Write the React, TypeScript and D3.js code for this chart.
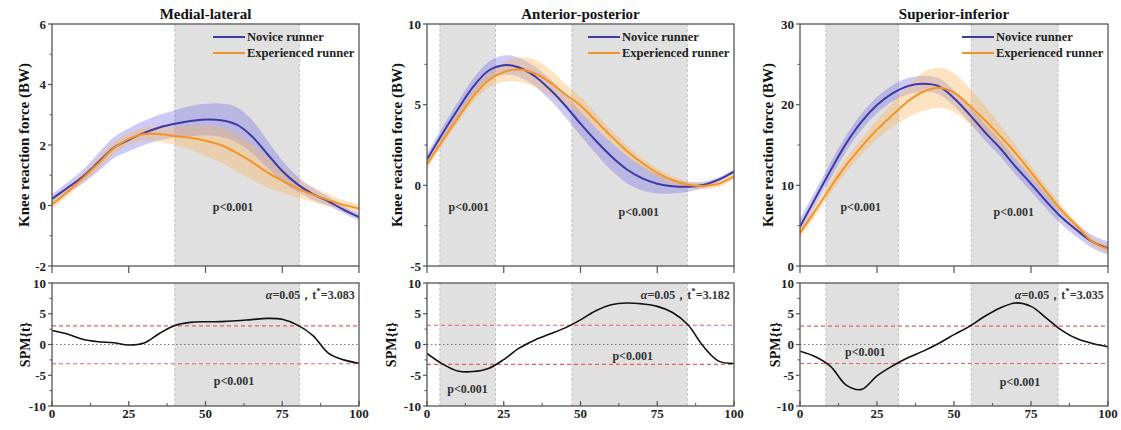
import React from 'react';
import * as d3 from 'd3';

// gait cycle (%) sample points
const gaitCycle = [0, 5, 10, 15, 20, 25, 30, 35, 40, 45, 50, 55, 60, 65, 70, 75, 80, 85, 90, 95, 100];

// Medial-lateral
const mlNovice = [0.22, 0.58, 0.95, 1.42, 1.9, 2.17, 2.4, 2.58, 2.7, 2.79, 2.84, 2.82, 2.68, 2.3, 1.72, 1.14, 0.7, 0.38, 0.14, -0.14, -0.38];
const mlNoviceSd = [0.15, 0.18, 0.22, 0.3, 0.35, 0.38, 0.4, 0.42, 0.45, 0.5, 0.52, 0.55, 0.58, 0.55, 0.45, 0.35, 0.25, 0.2, 0.15, 0.12, 0.12];
const mlExperienced = [0.03, 0.45, 0.9, 1.38, 1.88, 2.2, 2.36, 2.36, 2.3, 2.24, 2.14, 2.0, 1.75, 1.45, 1.1, 0.82, 0.56, 0.36, 0.18, 0.02, -0.1];
const mlExperiencedSd = [0.15, 0.15, 0.15, 0.2, 0.2, 0.2, 0.22, 0.25, 0.3, 0.4, 0.5, 0.58, 0.62, 0.58, 0.5, 0.4, 0.3, 0.25, 0.2, 0.15, 0.15];
const mlSpm = [2.28, 1.7, 0.85, 0.45, 0.28, -0.08, 0.25, 1.8, 3.1, 3.6, 3.7, 3.72, 3.85, 4.05, 4.25, 4.1, 3.15, 1.45, -1.4, -2.5, -3.04];

// Anterior-posterior
const apNovice = [1.6, 3.2, 4.7, 6.1, 7.1, 7.45, 7.3, 6.78, 5.95, 4.95, 3.82, 2.76, 1.8, 1.0, 0.45, 0.1, -0.06, -0.09, 0.02, 0.35, 0.85];
const apNoviceSd = [0.35, 0.4, 0.45, 0.5, 0.55, 0.6, 0.6, 0.6, 0.65, 0.7, 0.75, 0.8, 0.85, 0.85, 0.75, 0.6, 0.45, 0.3, 0.2, 0.15, 0.15];
const apExperienced = [1.3, 2.75, 4.15, 5.5, 6.5, 7.02, 7.18, 6.95, 6.4, 5.65, 4.95, 4.0, 3.05, 2.15, 1.4, 0.78, 0.32, 0.04, -0.04, 0.1, 0.55];
const apExperiencedSd = [0.3, 0.3, 0.3, 0.35, 0.45, 0.6, 0.75, 0.85, 0.8, 0.65, 0.55, 0.45, 0.4, 0.35, 0.3, 0.3, 0.25, 0.2, 0.2, 0.2, 0.2];
const apSpm = [-1.46, -3.15, -4.3, -4.4, -3.9, -2.45, -0.6, 0.7, 1.7, 2.7, 4.0, 5.5, 6.45, 6.75, 6.6, 6.2, 5.2, 3.2, -0.3, -2.7, -3.08];

// Superior-inferior
const siNovice = [4.9, 8.4, 11.9, 15.2, 17.9, 19.95, 21.4, 22.3, 22.6, 22.3, 20.8, 18.8, 16.6, 14.6, 12.3, 10.2, 8.0, 6.0, 4.4, 3.0, 2.2];
const siNoviceSd = [0.9, 0.95, 1.0, 1.0, 1.0, 1.0, 1.0, 1.0, 1.0, 1.0, 1.0, 1.0, 1.0, 1.0, 1.0, 0.95, 0.9, 0.9, 0.85, 0.8, 0.8];
const siExperienced = [4.1, 6.9, 9.8, 12.5, 14.8, 16.9, 18.7, 20.4, 21.6, 22.1, 21.5, 19.9, 18.1, 16.1, 14.0, 11.6, 9.2, 6.9, 4.9, 3.0, 2.1];
const siExperiencedSd = [0.6, 0.7, 0.8, 0.9, 1.0, 1.2, 1.5, 2.0, 2.4, 2.5, 2.4, 2.2, 1.8, 1.4, 1.0, 0.8, 0.7, 0.6, 0.5, 0.5, 0.5];
const siSpm = [-1.1, -2.0, -3.6, -6.6, -7.3, -5.1, -3.5, -2.16, -1.08, 0.16, 1.6, 2.95, 4.6, 5.95, 6.76, 6.2, 4.3, 2.3, 0.92, 0.16, -0.38];

const titles = ['Medial-lateral', 'Anterior-posterior', 'Superior-inferior'];
const thresholds = [3.083, 3.182, 3.035];
const sigRegions = [
  [[40, 80.6]],
  [[4.2, 22.3], [47.2, 84.8]],
  [[8.4, 32], [55.6, 83.8]],
];
const xTicks = [0, 25, 50, 75, 100];
const spmTicks = [-10, -5, 0, 5, 10];

const FONT = '"Liberation Serif", "Times New Roman", serif';
const BLUE = '#3d3aa6';
const ORANGE = '#f39424';

const TOP = [24, 266];
const BOT = [283, 406];

const panels = [
  {
    left: 52, right: 359, yDomain: [-2, 6], yTicks: [-2, 0, 2, 4, 6], yMinor: [-1, 1, 3, 5],
    novice: mlNovice, noviceSd: mlNoviceSd, exp: mlExperienced, expSd: mlExperiencedSd, spm: mlSpm,
    topP: [[59, -0.17]], botP: [[59.3, -6.6]], yLabelX: 24, spmLabelX: 25,
  },
  {
    left: 427, right: 734, yDomain: [-5, 10], yTicks: [-5, 0, 5, 10], yMinor: [-2.5, 2.5, 7.5],
    novice: apNovice, noviceSd: apNoviceSd, exp: apExperienced, expSd: apExperiencedSd, spm: apSpm,
    topP: [[13.6, -1.6], [69, -1.9]], botP: [[13.2, -7.9], [67, -2.5]], yLabelX: 397, spmLabelX: 391,
  },
  {
    left: 800, right: 1108, yDomain: [0, 30], yTicks: [0, 10, 20, 30], yMinor: [5, 15, 25],
    novice: siNovice, noviceSd: siNoviceSd, exp: siExperienced, expSd: siExperiencedSd, spm: siSpm,
    topP: [[19.7, 6.8], [69.4, 6.2]], botP: [[21.2, -1.9], [71.4, -6.7]], yLabelX: 768, spmLabelX: 775,
  },
];

function Panel({ p, idx }: { p: any; idx: number }) {
  const x = d3.scaleLinear().domain([0, 100]).range([p.left, p.right]);
  const y = d3.scaleLinear().domain(p.yDomain).range([TOP[1], TOP[0]]);
  const ys = d3.scaleLinear().domain([-10, 10]).range([BOT[1], BOT[0]]);
  const curve = d3.curveCatmullRom.alpha(0.5);

  const band = (mean: number[], sd: number[]) =>
    d3.area<number>()
      .x((_, i) => x(gaitCycle[i]))
      .y0((m, i) => y(m - sd[i]))
      .y1((m, i) => y(m + sd[i]))
      .curve(curve)(mean) || '';
  const line = (vals: number[], sc: d3.ScaleLinear<number, number>) =>
    d3.line<number>().x((_, i) => x(gaitCycle[i])).y((v) => sc(v)).curve(curve)(vals) || '';

  const thr = thresholds[idx];
  const frame = '#555';
  const minorX = [12.5, 37.5, 62.5, 87.5];
  const lx = p.right - 146;

  return (
    <g>
      <defs>
        <clipPath id={`clipT${idx}`}>
          <rect x={p.left} y={TOP[0]} width={p.right - p.left} height={TOP[1] - TOP[0]} />
        </clipPath>
        <clipPath id={`clipB${idx}`}>
          <rect x={p.left} y={BOT[0]} width={p.right - p.left} height={BOT[1] - BOT[0]} />
        </clipPath>
      </defs>

      {/* significance regions */}
      {sigRegions[idx].map(([a, b], i) => (
        <g key={i}>
          {[TOP, BOT].map((r, j) => (
            <g key={j}>
              <rect x={x(a)} y={r[0]} width={x(b) - x(a)} height={r[1] - r[0]} fill="#e0e0e0" />
              <line x1={x(a)} x2={x(a)} y1={r[0]} y2={r[1]} stroke="#b8b8b8" strokeWidth={0.8} strokeDasharray="3,2" />
              <line x1={x(b)} x2={x(b)} y1={r[0]} y2={r[1]} stroke="#b8b8b8" strokeWidth={0.8} strokeDasharray="3,2" />
            </g>
          ))}
        </g>
      ))}

      {/* top: force curves */}
      <g clipPath={`url(#clipT${idx})`}>
        <path d={band(p.novice, p.noviceSd)} fill="#7470e2" fillOpacity={0.36} />
        <path d={band(p.exp, p.expSd)} fill="#fbb25a" fillOpacity={0.36} />
        <path d={line(p.novice, y)} fill="none" stroke={BLUE} strokeWidth={2} />
        <path d={line(p.exp, y)} fill="none" stroke={ORANGE} strokeWidth={2} />
      </g>

      {/* bottom: SPM */}
      <g clipPath={`url(#clipB${idx})`}>
        <line x1={p.left} x2={p.right} y1={ys(thr) + 0.3} y2={ys(thr) + 0.3} stroke="#ee5c5c" strokeWidth={1.1} strokeDasharray="4,3" />
        <line x1={p.left} x2={p.right} y1={ys(-thr) + 0.3} y2={ys(-thr) + 0.3} stroke="#ee5c5c" strokeWidth={1.1} strokeDasharray="4,3" />
        <line x1={p.left} x2={p.right} y1={ys(0)} y2={ys(0)} stroke="#777" strokeWidth={1} strokeDasharray="1.5,2.5" />
        <path d={line(p.spm, ys)} fill="none" stroke="#111" strokeWidth={1.6} />
      </g>

      {/* frames */}
      <rect x={p.left} y={TOP[0]} width={p.right - p.left} height={TOP[1] - TOP[0]} fill="none" stroke={frame} strokeWidth={1.3} />
      <rect x={p.left} y={BOT[0]} width={p.right - p.left} height={BOT[1] - BOT[0]} fill="none" stroke={frame} strokeWidth={1.3} />

      {/* top x ticks */}
      {xTicks.map((t) => (
        <line key={t} x1={x(t)} x2={x(t)} y1={TOP[1]} y2={TOP[1] + 7} stroke={frame} strokeWidth={1.2} />
      ))}
      {/* bottom x ticks */}
      {xTicks.map((t) => (
        <g key={t}>
          <line x1={x(t)} x2={x(t)} y1={BOT[1]} y2={BOT[1] - 5} stroke={frame} strokeWidth={1.2} />
          <text x={x(t)} y={BOT[1] + 12} textAnchor="middle" fontSize={13} fontWeight="bold" fontFamily={FONT} fill="#222">{t}</text>
        </g>
      ))}
      {minorX.map((t) => (
        <line key={t} x1={x(t)} x2={x(t)} y1={BOT[1]} y2={BOT[1] - 3} stroke={frame} strokeWidth={1} />
      ))}

      {/* top y ticks */}
      {p.yTicks.map((t: number) => (
        <g key={t}>
          <line x1={p.left} x2={p.left - 4} y1={y(t)} y2={y(t)} stroke={frame} strokeWidth={1.2} />
          <text x={p.left - 6} y={y(t)} dy="0.35em" textAnchor="end" fontSize={13} fontWeight="bold" fontFamily={FONT} fill="#222">{t}</text>
        </g>
      ))}
      {p.yMinor.map((t: number) => (
        <line key={t} x1={p.left} x2={p.left - 2.5} y1={y(t)} y2={y(t)} stroke={frame} strokeWidth={1} />
      ))}
      {/* bottom y ticks */}
      {spmTicks.map((t) => (
        <g key={t}>
          <line x1={p.left} x2={p.left - 4} y1={ys(t)} y2={ys(t)} stroke={frame} strokeWidth={1.2} />
          <text x={p.left - 6} y={ys(t)} dy="0.35em" textAnchor="end" fontSize={13} fontWeight="bold" fontFamily={FONT} fill="#222">{t}</text>
        </g>
      ))}
      {[-7.5, -2.5, 2.5, 7.5].map((t) => (
        <line key={t} x1={p.left} x2={p.left - 2.5} y1={ys(t)} y2={ys(t)} stroke={frame} strokeWidth={1} />
      ))}

      {/* titles and axis labels */}
      <text x={(p.left + p.right) / 2} y={19} textAnchor="middle" fontSize={15} fontWeight="bold" fontFamily={FONT} fill="#111">{titles[idx]}</text>
      <text transform={`translate(${p.yLabelX},${(TOP[0] + TOP[1]) / 2}) rotate(-90)`} textAnchor="middle" dominantBaseline="central" fontSize={15} fontWeight="bold" fontFamily={FONT} fill="#111">Knee reaction force (BW)</text>
      <text transform={`translate(${p.spmLabelX},${(BOT[0] + BOT[1]) / 2}) rotate(-90)`} textAnchor="middle" dominantBaseline="central" fontSize={14} fontWeight="bold" fontFamily={FONT} fill="#111">SPM{'{t}'}</text>

      {/* legend */}
      <line x1={lx} x2={lx + 32} y1={37} y2={37} stroke={BLUE} strokeWidth={2} />
      <line x1={lx} x2={lx + 32} y1={53} y2={53} stroke={ORANGE} strokeWidth={2} />
      <text x={lx + 34} y={37} dy="0.35em" fontSize={12.5} fontWeight="bold" fontFamily={FONT} fill="#222">Novice runner</text>
      <text x={lx + 34} y={53} dy="0.35em" fontSize={12.5} fontWeight="bold" fontFamily={FONT} fill="#222">Experienced runner</text>

      {/* annotations */}
      {p.topP.map(([a, b]: number[], i: number) => (
        <text key={i} x={x(a)} y={y(b)} textAnchor="middle" fontSize={12} fontWeight="bold" fontFamily={FONT} fill="#333">p&lt;0.001</text>
      ))}
      {p.botP.map(([a, b]: number[], i: number) => (
        <text key={i} x={x(a)} y={ys(b)} textAnchor="middle" fontSize={12} fontWeight="bold" fontFamily={FONT} fill="#333">p&lt;0.001</text>
      ))}
      <text x={x(98.6)} y={299} textAnchor="end" fontSize={12} fontWeight="bold" fontFamily={FONT} fill="#333">
        <tspan fontStyle="italic">α</tspan>=0.05，t<tspan dy={-5} fontSize={9}>*</tspan><tspan dy={5}>={thr.toFixed(3)}</tspan>
      </text>
    </g>
  );
}

export default function App() {
  return (
    <svg width={1121} height={430} style={{ position: 'absolute', left: 0, top: 0, background: '#fff' }}>
      {panels.map((p, i) => (
        <Panel key={i} p={p} idx={i} />
      ))}
    </svg>
  );
}
